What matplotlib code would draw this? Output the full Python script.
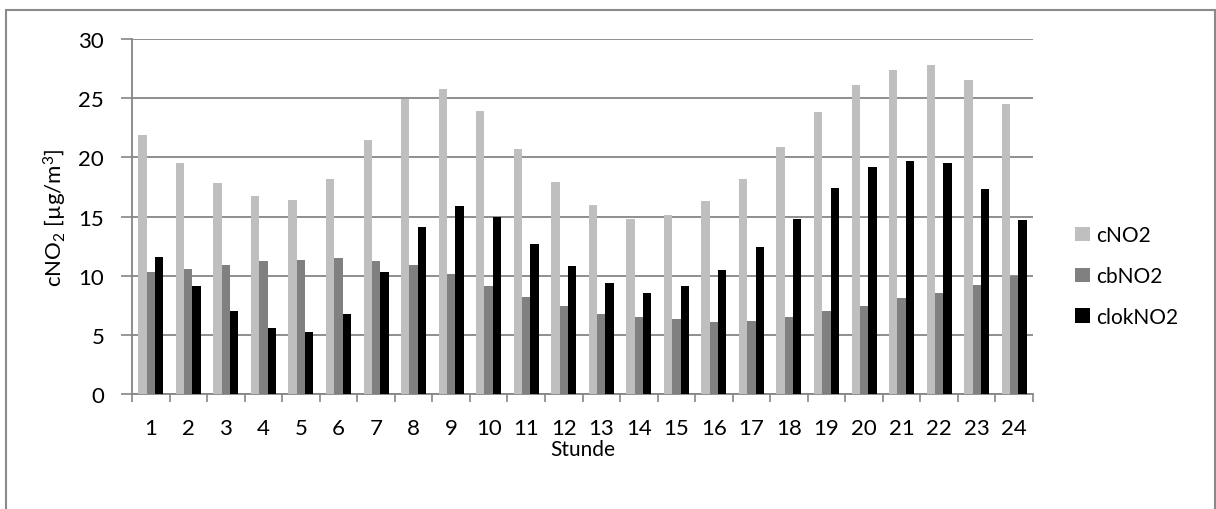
import numpy as np
import matplotlib.pyplot as plt
from matplotlib.patches import Rectangle

plt.rcParams['font.family'] = ['Lato', 'DejaVu Sans']
plt.rcParams['mathtext.fontset'] = 'custom'
plt.rcParams['mathtext.rm'] = 'Lato'
plt.rcParams['mathtext.it'] = 'Lato'

hours = [str(h) for h in range(1, 25)]
c_no2 = [21.9, 19.5, 17.8, 16.7, 16.4, 18.2, 21.5, 24.9, 25.8, 23.9, 20.7, 17.9,
         16.0, 14.8, 15.1, 16.3, 18.2, 20.9, 23.8, 26.1, 27.4, 27.8, 26.5, 24.5]
cb_no2 = [10.3, 10.6, 10.9, 11.2, 11.3, 11.5, 11.2, 10.9, 10.1, 9.1, 8.2, 7.4,
          6.8, 6.5, 6.3, 6.1, 6.2, 6.5, 7.0, 7.4, 8.1, 8.5, 9.2, 10.0]
clok_no2 = [11.6, 9.1, 7.0, 5.6, 5.2, 6.8, 10.3, 14.1, 15.9, 15.0, 12.7, 10.8,
            9.4, 8.5, 9.1, 10.5, 12.4, 14.8, 17.4, 19.2, 19.7, 19.5, 17.3, 14.7]
series = [("cNO2", c_no2, "#BFBFBF"),
          ("cbNO2", cb_no2, "#808080"),
          ("clokNO2", clok_no2, "#000000")]

W, H = 1216, 510
fig = plt.figure(figsize=(W / 100, H / 100), dpi=100)
# chart frame (bottom edge runs past the canvas)
fig.patches.append(Rectangle((6 / W, -0.02), 1209 / W, (H - 11) / H + 0.02,
                             transform=fig.transFigure, fill=False,
                             edgecolor="#8A8A8A", linewidth=1.5))
ax = fig.add_axes([132 / W, 115 / H, 901 / W, 355 / H])

x = np.arange(len(hours))
w = 0.222
for i, (name, vals, col) in enumerate(series):
    ax.bar(x + (i - 1) * w, vals, width=w, color=col, label=name, zorder=3)

ax.set_xlim(-0.5, len(hours) - 0.5)
ax.set_ylim(0, 30)
ax.set_yticks(range(0, 31, 5))
ax.set_xticks(x)
ax.set_xticklabels(hours)
ax.set_xticks(np.arange(-0.5, len(hours), 1), minor=True)
ax.tick_params(axis='x', which='major', length=0, labelsize=16, pad=17)
ax.tick_params(axis='x', which='minor', length=6, color="#868686", width=1.2)
ax.tick_params(axis='y', length=8, color="#868686", width=1.2, labelsize=16, pad=12)
ax.grid(axis='y', color="#868686", linewidth=1.3, zorder=0)
for s in ['top', 'right']:
    ax.spines[s].set_visible(False)
for s in ['left', 'bottom']:
    ax.spines[s].set_color("#868686")
    ax.spines[s].set_linewidth(1.3)

ax.set_xlabel("Stunde", fontsize=15, labelpad=1)
ax.set_ylabel(r"cNO$_2$ [µg/m$^3$]", fontsize=16, labelpad=7)

ax.legend(loc='center left', bbox_to_anchor=(1.026, 0.332), frameon=False,
          fontsize=15, handlelength=0.7, handleheight=0.7, labelspacing=1.0,
          handletextpad=0.3)

fig.savefig("out.png", dpi=100)
